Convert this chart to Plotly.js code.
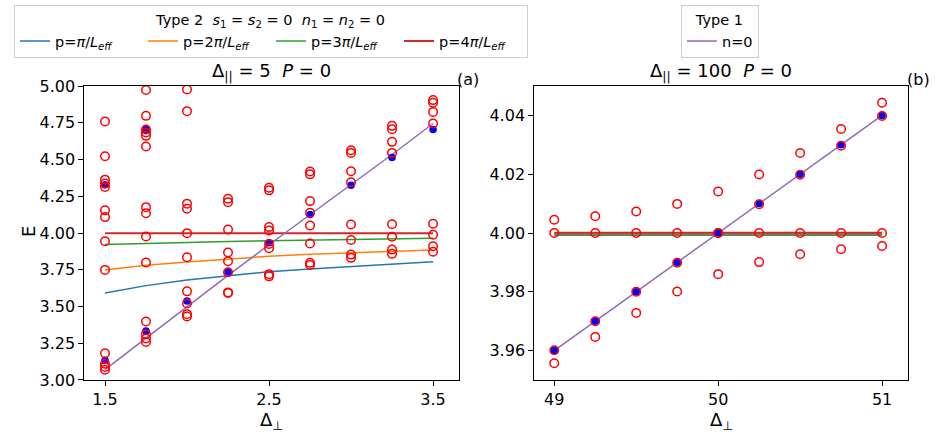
<!DOCTYPE html>
<html>
<head>
<meta charset="utf-8">
<script src="https://cdn.plot.ly/plotly-3.0.1.min.js"></script>
<style>
  html, body { margin: 0; padding: 0; background: #fff; }
  #plot { width: 936px; height: 432px; }
</style>
</head>
<body>
<div id="plot"></div>
<script>
// panel (a): Delta_par = 5
var xA = [1.5, 1.75, 2.0, 2.25, 2.5, 2.75, 3.0, 3.25, 3.5]
var p1A = [3.592, 3.642, 3.680, 3.710, 3.737, 3.755, 3.773, 3.792, 3.805]
var p2A = [3.749, 3.780, 3.802, 3.824, 3.842, 3.855, 3.866, 3.876, 3.885]
var p3A = [3.922, 3.930, 3.937, 3.943, 3.948, 3.953, 3.958, 3.962, 3.965]
var p4A = [3.999, 3.999, 3.999, 3.999, 3.999, 3.999, 3.999, 3.999, 3.999]
var n0A = [3.070, 3.285, 3.498, 3.712, 3.920, 4.124, 4.329, 4.534, 4.745]
// numerical energies (open red circles), one list per x value
var redA = [
    [4.759, 4.522, 4.363, 4.336, 4.313, 4.154, 4.108, 3.944, 3.749, 3.182, 3.111, 3.089, 3.070],
    [4.973, 4.797, 4.704, 4.684, 4.661, 4.588, 4.176, 4.135, 3.976, 3.799, 3.398, 3.312, 3.282, 3.259],
    [4.977, 4.829, 4.199, 4.165, 3.999, 3.835, 3.603, 3.521, 3.448, 3.432],
    [4.233, 4.210, 4.024, 3.867, 3.808, 3.733, 3.592, 3.596],
    [4.308, 4.290, 4.040, 4.017, 3.926, 3.896, 3.720, 3.705],
    [4.418, 4.399, 4.217, 4.138, 4.051, 3.928, 3.797, 3.783],
    [4.563, 4.545, 4.420, 4.345, 4.058, 3.953, 3.853, 3.831],
    [4.729, 4.706, 4.620, 4.545, 4.060, 3.974, 3.887, 3.858],
    [4.904, 4.886, 4.823, 4.745, 4.063, 3.988, 3.910, 3.872]
]
// exact energies (filled blue dots)
var blueXA = [1.5, 1.5, 1.75, 1.75, 2.0, 2.25, 2.5, 2.75, 3.0, 3.25, 3.5]
var blueYA = [4.329, 3.134, 4.704, 3.334, 3.537, 3.737, 3.933, 4.126, 4.324, 4.513, 4.704]

// panel (b): Delta_par = 100
var xB = [49, 49.25, 49.5, 49.75, 50, 50.25, 50.5, 50.75, 51]
var p1B = [3.9992, 3.9992, 3.9992, 3.9992, 3.9992, 3.9992, 3.9992, 3.9992, 3.9992]
var p2B = [3.9995, 3.9995, 3.9995, 3.9995, 3.9995, 3.9995, 3.9995, 3.9995, 3.9995]
var p3B = [3.9997, 3.9997, 3.9997, 3.9997, 3.9997, 3.9997, 3.9997, 3.9997, 3.9997]
var p4B = [4.0001, 4.0001, 4.0001, 4.0001, 4.0001, 4.0001, 4.0001, 4.0001, 4.0001]
var n0B = [3.960, 3.970, 3.980, 3.990, 4.000, 4.010, 4.020, 4.030, 4.040]
var redB = [
    [4.0045, 4.0000, 3.9601, 3.9557],
    [4.0057, 4.0000, 3.9700, 3.9646],
    [4.0073, 4.0000, 3.9800, 3.9728],
    [4.0099, 4.0000, 3.9899, 3.9801],
    [4.0141, 4.0000, 4.0000, 3.9860],
    [4.0199, 4.0098, 4.0000, 3.9901],
    [4.0272, 4.0198, 4.0000, 3.9928],
    [4.0354, 4.0297, 4.0000, 3.9945],
    [4.0443, 4.0398, 4.0000, 3.9956]
]
var blueXB = [49, 49.25, 49.5, 49.75, 50, 50.25, 50.5, 50.75, 51]
var blueYB = [3.960, 3.970, 3.980, 3.990, 4.000, 4.010, 4.020, 4.030, 4.040]

var pNames = ['p=<i>π</i>/<i>L</i><sub><i>eff</i></sub>', 'p=2<i>π</i>/<i>L</i><sub><i>eff</i></sub>',
              'p=3<i>π</i>/<i>L</i><sub><i>eff</i></sub>', 'p=4<i>π</i>/<i>L</i><sub><i>eff</i></sub>']
var pColors = ['#1f77b4', '#ff7f0e', '#2ca02c', '#d62728']

function flatten(xs, lists) {
    var fx = [], fy = []
    xs.forEach(function (x, i) {
        lists[i].forEach(function (y) { fx.push(x); fy.push(y) })
    })
    return {x: fx, y: fy}
}

function panel(xs, lines, n0, reds, bx, by, xa, ya, show) {
    var out = []
    lines.forEach(function (ys, i) {
        out.push({x: xs, y: ys, type: 'scatter', mode: 'lines', name: pNames[i],
                  line: {color: pColors[i], width: i == 3 ? 2 : 1.5}, xaxis: xa, yaxis: ya,
                  showlegend: show, legend: 'legend'})
    })
    out.push({x: xs, y: n0, type: 'scatter', mode: 'lines', name: 'n=0',
              line: {color: '#9467bd', width: 1.5}, xaxis: xa, yaxis: ya,
              showlegend: show, legend: 'legend2'})
    out.push({x: bx, y: by, type: 'scatter', mode: 'markers', showlegend: false,
              marker: {color: 'blue', size: 7.5}, xaxis: xa, yaxis: ya})
    var r = flatten(xs, reds)
    out.push({x: r.x, y: r.y, type: 'scatter', mode: 'markers', showlegend: false,
              marker: {symbol: 'circle-open', color: 'red', size: 8.5, line: {width: 1.5}},
              xaxis: xa, yaxis: ya})
    return out
}

var data = panel(xA, [p1A, p2A, p3A, p4A], n0A, redA, blueXA, blueYA, 'x', 'y', true)
    .concat(panel(xB, [p1B, p2B, p3B, p4B], n0B, redB, blueXB, blueYB, 'x2', 'y2', false))

var axFont = {family: 'DejaVu Sans', size: 16, color: '#000'}
function axis(extra) {
    var a = {showline: true, mirror: true, linecolor: '#000', linewidth: 1, showgrid: false,
             zeroline: false, ticks: 'outside', ticklen: 5, tickcolor: '#000',
             tickfont: axFont, automargin: false}
    for (var k in extra) a[k] = extra[k]
    return a
}

function note(text, x, y, size, extra) {
    var a = {text: text, xref: 'paper', yref: 'paper', x: x, y: y, xanchor: 'center',
             yanchor: 'middle', showarrow: false, font: {size: size, color: '#000'}}
    for (var k in extra) a[k] = extra[k]
    return a
}

var legFont = {family: 'DejaVu Sans', size: 14.5, color: '#000'}
var layout = {
    width: 936, height: 432,
    margin: {l: 0, r: 0, t: 0, b: 0},
    paper_bgcolor: '#fff', plot_bgcolor: '#fff',
    font: {family: 'DejaVu Sans', color: '#000'},
    xaxis: axis({domain: [0.0901, 0.4907], range: [1.374, 3.66], tickvals: [1.5, 2.5, 3.5],
                 ticktext: ['1.5', '2.5', '3.5']}),
    yaxis: axis({domain: [0.1204, 0.8009], range: [3.0, 5.0], dtick: 0.25, tickformat: '.2f'}),
    xaxis2: axis({domain: [0.5708, 0.9704], range: [48.878, 51.16], tickvals: [49, 50, 51],
                  anchor: 'y2'}),
    yaxis2: axis({domain: [0.1204, 0.8009], range: [3.95, 4.05], tickvals: [3.96, 3.98, 4.00, 4.02, 4.04],
                  tickformat: '.2f', anchor: 'x2'}),
    legend: {orientation: 'h', x: 0.015, y: 0.988, xanchor: 'left', yanchor: 'top',
             bordercolor: '#ccc', borderwidth: 1, bgcolor: '#fff',
             font: legFont, tracegroupgap: 0,
             entrywidth: 83, entrywidthmode: 'pixels',
             title: {text: 'Type 2  <i>s</i><sub>1</sub> = <i>s</i><sub>2</sub> = 0  <i>n</i><sub>1</sub> = <i>n</i><sub>2</sub> = 0',
                     side: 'top center', font: legFont}},
    legend2: {orientation: 'v', x: 0.7275, y: 0.988, xanchor: 'left', yanchor: 'top',
              bordercolor: '#ccc', borderwidth: 1, bgcolor: '#fff',
              font: legFont,
              title: {text: 'Type 1', side: 'top center', font: legFont}},
    annotations: [
        note('Δ<sub>||</sub> = 5  <i>P</i> = 0', 0.2904, 0.801, 18, {yanchor: 'bottom'}),
        note('Δ<sub>||</sub> = 100  <i>P</i> = 0', 0.7706, 0.801, 18, {yanchor: 'bottom'}),
        note('(a)', 0.5, 0.789, 16, {yanchor: 'bottom'}),
        note('(b)', 0.981, 0.789, 16, {yanchor: 'bottom'}),
        note('E', 28 / 936, 1 - 232 / 432, 18, {textangle: -90}),
        note('Δ<sub>⊥</sub>', 0.2904, 1 - 421 / 432, 18),
        note('Δ<sub>⊥</sub>', 0.7706, 1 - 421 / 432, 18)
    ]
}

Plotly.newPlot('plot', data, layout, {displayModeBar: false, staticPlot: true})
</script>
</body>
</html>
